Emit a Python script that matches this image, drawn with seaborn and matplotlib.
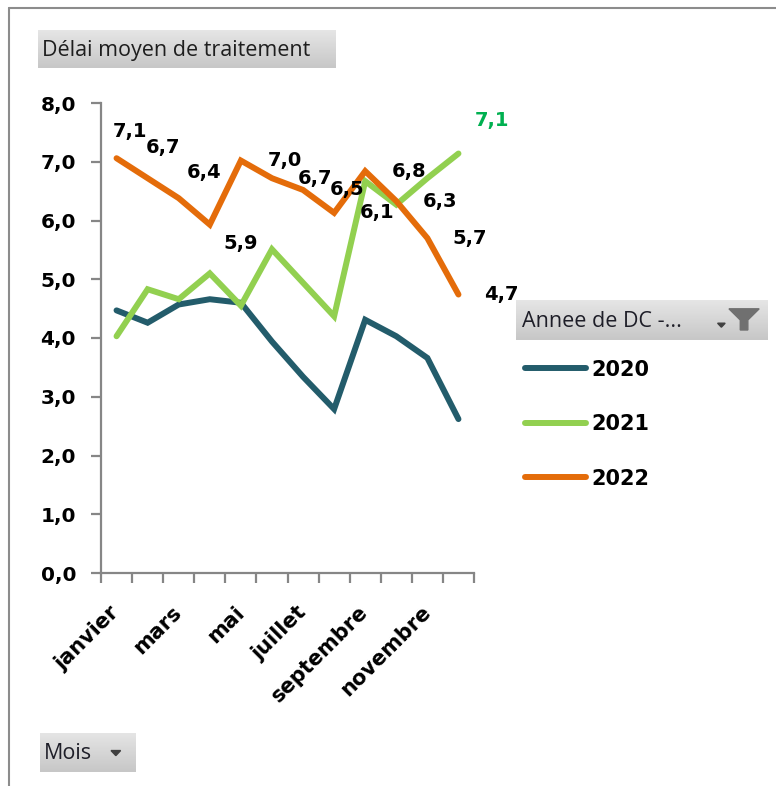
import numpy as np
import pandas as pd
import matplotlib
matplotlib.use("Agg")
import matplotlib.pyplot as plt
import seaborn as sns
from matplotlib.lines import Line2D
from matplotlib.patches import Polygon
from matplotlib.ticker import FuncFormatter

# ---------------- data ----------------
mois = ["janvier", "février", "mars", "avril", "mai", "juin", "juillet",
        "août", "septembre", "octobre", "novembre", "décembre"]
annees = ["2020", "2021", "2022"]
v2020 = [4.47, 4.26, 4.57, 4.66, 4.60, 3.94, 3.34, 2.79, 4.31, 4.03, 3.66, 2.62]
v2021 = [4.03, 4.83, 4.66, 5.10, 4.55, 5.51, 4.94, 4.37, 6.67, 6.27, 6.72, 7.14]
v2022 = [7.06, 6.72, 6.38, 5.93, 7.02, 6.72, 6.52, 6.13, 6.84, 6.33, 5.70, 4.74]
couleurs = ["#235C6B", "#92D050", "#E46C0A"]
x_labels_shown = ["janvier", "mars", "mai", "juillet", "septembre", "novembre"]
y_ticks = [0, 1, 2, 3, 4, 5, 6, 7, 8]

# label offsets (pixels) for the 2022 data labels
lab_off_2022 = [(13, 27), (15, 31), (25, 26), (31, -19), (44, 0), (43, 0),
                (44, 0), (43, 0), (44, 0), (44, 0), (42, 0), (43, 0)]

df = pd.DataFrame({
    "idx": list(range(12)) * 3,
    "mois": mois * 3,
    "annee": sum([[a] * 12 for a in annees], []),
    "valeur": v2020 + v2021 + v2022,
})

sns.set_theme(style="white")
plt.rcParams["font.family"] = ["DejaVu Sans"]
plt.rcParams["text.color"] = "black"
plt.rcParams["xtick.color"] = "black"
plt.rcParams["ytick.color"] = "black"

W, H = 776, 786
fig = plt.figure(figsize=(W / 100, H / 100), dpi=100)
fig.patch.set_facecolor("white")

def fx(px):
    return px / W

def fy(py):
    return 1 - py / H

ax = fig.add_axes([fx(101), fy(573), fx(474) - fx(101), fy(103) - fy(573)])
sns.lineplot(data=df, x="idx", y="valeur", hue="annee", palette=couleurs,
             linewidth=4.3, legend=False, ax=ax, sort=False)
for ln in ax.lines:
    ln.set_solid_capstyle("round")
    ln.set_solid_joinstyle("miter")

ax.set_xlim(-0.5, 11.5)
ax.set_ylim(0, 8)
ax.set_xlabel("")
ax.set_ylabel("")
grey = "#868686"
for s in ["top", "right"]:
    ax.spines[s].set_visible(False)
for s in ["left", "bottom"]:
    ax.spines[s].set_color(grey)
    ax.spines[s].set_linewidth(1.6)

ax.set_yticks(y_ticks)
ax.yaxis.set_major_formatter(FuncFormatter(lambda v, p: f"{v:.1f}".replace(".", ",")))
ax.tick_params(axis="y", which="major", direction="out", length=7, width=1.6,
               color=grey, labelcolor="black", pad=11, labelsize=14.5, left=True)
for t in ax.get_yticklabels():
    t.set_fontweight("bold")

ax.set_xticks(np.arange(-0.5, 12, 1))
ax.set_xticklabels([""] * 13)
ax.tick_params(axis="x", which="major", direction="out", length=7, width=1.6,
               color=grey, bottom=True)
pos = [mois.index(m) for m in x_labels_shown]
ax.set_xticks(pos, minor=True)
ax.set_xticklabels(x_labels_shown, minor=True, rotation=45, ha="right",
                   va="center", rotation_mode="anchor", fontsize=15,
                   fontweight="bold", color="black")
ax.tick_params(axis="x", which="minor", length=0, pad=26)
ax.grid(False)

# data labels
for i, (v, off) in enumerate(zip(v2022, lab_off_2022)):
    ax.annotate(f"{v:.1f}".replace(".", ","), xy=(i, v), xytext=off,
                textcoords="offset pixels", ha="center", va="center",
                fontsize=14, fontweight="bold", color="black")
ax.annotate(f"{v2021[-1]:.1f}".replace(".", ","), xy=(11, v2021[-1]),
            xytext=(34, 33), textcoords="offset pixels", ha="center",
            va="center", fontsize=14, fontweight="bold", color="#00B050")

# legend
leg = fig.legend(handles=ax.lines[:3], labels=annees, loc="upper left",
                 bbox_to_anchor=(fx(506), fy(341)), frameon=False,
                 prop={"size": 15, "weight": "bold"}, handlelength=2.95,
                 handletextpad=0.25, labelspacing=1.65)
for t in leg.get_texts():
    t.set_color("black")

# chart border
fig.add_artist(Line2D([fx(9), fx(9)], [0, fy(8)], color="#8C8C8C", lw=1.5))
fig.add_artist(Line2D([fx(9), 1], [fy(8), fy(8)], color="#8C8C8C", lw=1.5))

# gradient buttons
grad = np.linspace(0.90, 0.78, 50).reshape(-1, 1)

def button(x0, y0, x1, y1):
    b = fig.add_axes([fx(x0), fy(y1), fx(x1) - fx(x0), fy(y0) - fy(y1)])
    b.imshow(np.dstack([grad, grad, grad]), aspect="auto", extent=[0, 1, 0, 1])
    b.set_xlim(0, 1)
    b.set_ylim(0, 1)
    b.axis("off")
    return b

b1 = button(38, 30, 336, 68)
b1.text(0.015, 0.47, "Délai moyen de traitement", ha="left", va="center",
        fontsize=15.5, family="Open Sans", color="#1E1E1E")

b2 = button(516, 300, 768, 340)
b2.text(0.025, 0.47, "Annee de DC -...", ha="left", va="center",
        fontsize=15.5, family="Open Sans", color="#1E1E28")
b2.add_patch(Polygon([[0.845, 0.78], [0.965, 0.78], [0.92, 0.5], [0.92, 0.25],
                      [0.89, 0.25], [0.89, 0.5]], closed=True,
                     color="#707070"))
b2.add_patch(Polygon([[0.80, 0.42], [0.83, 0.42], [0.815, 0.32]], closed=True,
                     color="#404040"))

b3 = button(40, 733, 136, 772)
b3.text(0.04, 0.47, "Mois", ha="left", va="center", fontsize=15.5,
        family="Open Sans", color="#1E1E28")
b3.add_patch(Polygon([[0.74, 0.55], [0.84, 0.55], [0.79, 0.42]], closed=True,
                     color="#404040"))

fig.savefig("out.png", dpi=100, facecolor="white")
